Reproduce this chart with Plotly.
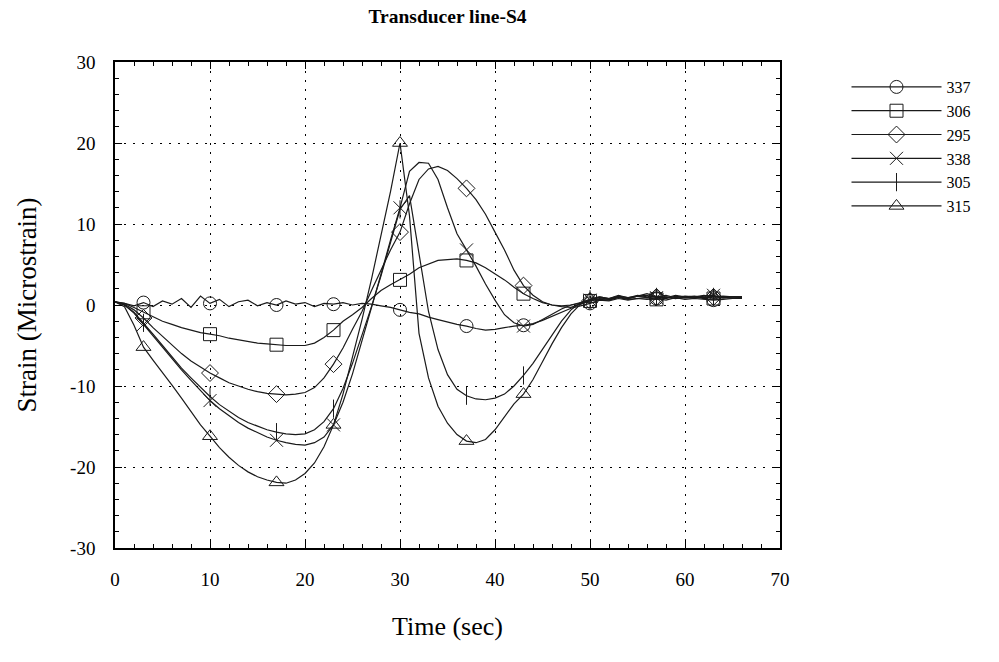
import plotly.graph_objects as go

time_s = list(range(0, 67))

s337 = [0.4, 0.2, -0.1, 0.3, -0.2, 0.5, 0.1, 0.8, -0.3, 1.1, 0.2, 0.7, -0.2, 0.4, 0.6, -0.1, 0.3, 0.0, 0.5, 0.1,
        0.3, -0.2, 0.2, 0.1, 0.3, 0.0, 0.2, 0.1, -0.1, -0.3, -0.6, -0.9, -1.1, -1.5, -1.8, -2.1, -2.4, -2.6, -2.9, -3.1,
        -3.0, -2.8, -2.6, -2.5, -2.3, -1.9, -1.4, -0.9, -0.4, -0.1, 0.2, 0.6, 0.5, 0.8, 0.6, 0.8, 0.7, 0.8, 0.6, 0.9,
        0.7, 0.8, 0.7, 0.6, 0.7, 0.8, 0.8]
s306 = [0.4, 0.2, -0.3, -0.9, -1.5, -2.0, -2.4, -2.8, -3.1, -3.4, -3.6, -3.8, -4.1, -4.3, -4.5, -4.7, -4.8, -4.9, -5.0, -5.0,
        -5.0, -4.7, -4.0, -3.1, -2.0, -1.2, -0.3, 0.8, 1.8, 2.5, 3.1, 3.8, 4.6, 5.1, 5.5, 5.6, 5.7, 5.5, 5.2, 4.6,
        3.9, 3.1, 2.2, 1.4, 0.8, 0.3, 0.0, -0.1, 0.0, 0.2, 0.5, 0.7, 0.6, 0.9, 0.7, 0.8, 0.9, 0.7, 1.0, 0.8,
        0.9, 0.8, 1.0, 0.8, 0.9, 0.8, 0.9]
s295 = [0.4, 0.1, -0.6, -1.6, -2.8, -3.9, -5.0, -6.0, -6.9, -7.7, -8.4, -9.0, -9.6, -10.0, -10.4, -10.7, -10.9, -11.0, -11.1, -11.0,
        -10.8, -10.2, -9.0, -7.3, -5.3, -3.0, -0.8, 1.8, 4.3, 6.8, 9.0, 12.5, 15.5, 16.8, 17.1, 16.6, 15.6, 14.4, 13.0, 11.2,
        9.0, 6.8, 4.3, 2.4, 1.2, 0.4, 0.0, -0.2, -0.3, 0.1, 0.5, 0.8, 0.7, 1.0, 0.8, 1.1, 0.9, 1.0, 0.8, 1.1,
        0.9, 1.0, 0.8, 1.0, 0.9, 1.0, 0.9]
s338 = [0.4, 0.0, -1.0, -2.4, -3.9, -5.3, -6.7, -8.0, -9.3, -10.6, -11.8, -12.8, -13.7, -14.5, -15.2, -15.8, -16.3, -16.7, -17.0, -17.2,
        -17.3, -17.0, -16.3, -14.8, -12.0, -8.5, -4.5, -0.5, 3.8, 8.0, 12.0, 16.5, 17.6, 17.5, 15.5, 12.0, 8.8, 6.8, 4.8, 2.6,
        0.6, -1.2, -2.2, -2.6, -2.4, -1.8, -1.1, -0.5, 0.0, 0.3, 0.6, 0.9, 0.7, 1.0, 0.8, 1.1, 1.2, 0.9, 1.0, 0.8,
        1.0, 0.9, 1.1, 1.2, 0.9, 1.0, 1.0]
s305 = [0.4, 0.0, -0.9, -2.2, -3.6, -5.0, -6.4, -7.8, -9.0, -10.2, -11.3, -12.3, -13.1, -13.9, -14.5, -15.0, -15.4, -15.7, -15.9, -16.0,
        -15.9, -15.4, -14.4, -12.8, -10.3, -7.2, -3.8, -0.2, 3.6, 7.8, 11.8, 13.5, 6.5, -0.8, -5.5, -8.6, -10.4, -11.2, -11.6, -11.7,
        -11.5, -11.0, -10.0, -8.7, -7.2, -5.5, -3.7, -2.0, -0.6, 0.3, 0.7, 1.0, 0.8, 1.2, 0.9, 1.1, 1.4, 1.0, 1.2, 0.9,
        1.1, 1.0, 1.2, 1.0, 1.1, 1.0, 1.0]
s315 = [0.4, -0.2, -2.5, -5.2, -6.8, -8.3, -9.9, -11.5, -13.2, -14.8, -16.2, -17.6, -18.8, -19.8, -20.6, -21.2, -21.6, -21.9, -22.0, -21.6,
        -20.8, -19.5, -17.5, -14.8, -11.0, -6.5, -1.8, 3.2, 8.5, 14.0, 20.0, 11.0, -3.5, -9.0, -12.5, -14.6, -16.0, -16.8, -17.0, -16.6,
        -15.4, -13.8, -12.2, -11.0, -9.2, -7.0, -4.8, -2.8, -1.1, 0.1, 0.7, 1.0, 0.8, 1.1, 0.9, 1.2, 1.0, 1.1, 0.9, 1.2,
        1.0, 1.1, 0.9, 1.1, 1.0, 1.0, 1.0]

series_names = ["337", "306", "295", "338", "305", "315"]
series_values = [s337, s306, s295, s338, s305, s315]
series_symbols = ["circle-open", "square-open", "diamond-open", "x-thin-open", "line-ns-open", "triangle-up-open"]
marker_index = [3, 10, 17, 23, 30, 37, 43, 50, 57, 63]

x_tick_vals = [0, 10, 20, 30, 40, 50, 60, 70]
x_tick_text = ["0", "10", "20", "30", "40", "50", "60", "70"]
y_tick_vals = [-30, -20, -10, 0, 10, 20, 30]
y_tick_text = ["-30", "-20", "-10", "0", "10", "20", "30"]

LINE = "#1a1a1a"
FONT = "Liberation Serif"

fig = go.Figure()
for name, vals, sym in zip(series_names, series_values, series_symbols):
    fig.add_trace(go.Scatter(x=time_s, y=vals, mode="lines", line=dict(color=LINE, width=1.2),
                             showlegend=False, hoverinfo="skip"))
    fig.add_trace(go.Scatter(x=[time_s[i] for i in marker_index], y=[vals[i] for i in marker_index],
                             mode="markers", showlegend=False,
                             marker=dict(symbol=sym, size=13, color=LINE, line=dict(color=LINE, width=1))))
for name, sym in zip(series_names, series_symbols):
    fig.add_trace(go.Scatter(x=[None], y=[None], mode="lines+markers", name=name,
                             line=dict(color=LINE, width=1.2),
                             marker=dict(symbol=sym, size=13, color=LINE, line=dict(color=LINE, width=1))))

axis_common = dict(
    showline=True, linecolor="black", linewidth=1.5, mirror="ticks",
    ticks="inside", ticklen=7, tickcolor="black", tickwidth=1,
    showgrid=True, gridcolor="black", gridwidth=1, griddash="2px,7px",
    zeroline=False,
    tickfont=dict(family=FONT, size=19, color="black"),
    minor=dict(ticks="inside", ticklen=4, tickcolor="black", tickwidth=1, showgrid=False, dtick=2),
)

fig.update_layout(
    width=999, height=662,
    paper_bgcolor="white", plot_bgcolor="white",
    margin=dict(l=115, r=219, t=62, b=114),
    title=dict(text="<b>Transducer line-S4</b>", x=(115 + 780) / 2 / 999, xanchor="center",
               y=1 - 16 / 662, yanchor="middle",
               font=dict(family=FONT, size=19.5, color="black")),
    xaxis=dict(range=[0, 70], tickvals=x_tick_vals, ticktext=x_tick_text, ticklabelstandoff=13,
               title=dict(text="Time (sec)", font=dict(family=FONT, size=26, color="black"), standoff=28),
               **axis_common),
    yaxis=dict(range=[-30, 30], tickvals=y_tick_vals, ticktext=y_tick_text, ticklabelstandoff=14,
               title=dict(text="Strain (Microstrain)", font=dict(family=FONT, size=27, color="black"), standoff=26),
               **axis_common),
    legend=dict(x=1.1, y=0.9835, xanchor="left", yanchor="top", itemwidth=90,
                font=dict(family=FONT, size=16, color="black"), bgcolor="rgba(0,0,0,0)",
                tracegroupgap=0),
)

fig.write_html("out.html")
